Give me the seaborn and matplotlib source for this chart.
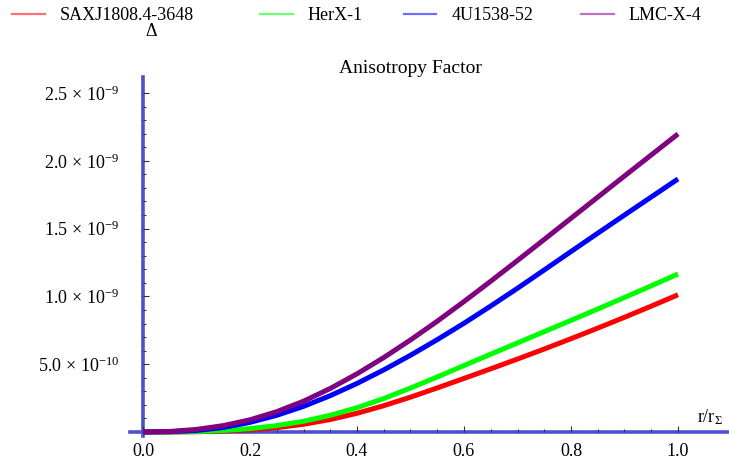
import numpy as np
import pandas as pd
import matplotlib
matplotlib.use("Agg")
import matplotlib.pyplot as plt
from matplotlib.ticker import FixedLocator, FuncFormatter
from matplotlib.lines import Line2D
import seaborn as sns

# ---- data ----
r = [0.0, 0.05, 0.1, 0.15, 0.2, 0.25, 0.3, 0.35, 0.4, 0.45, 0.5,
     0.55, 0.6, 0.65, 0.7, 0.75, 0.8, 0.85, 0.9, 0.95, 1.0]
saxj = [0, 0, 0.002, 0.007, 0.016, 0.032, 0.057, 0.092, 0.138, 0.194, 0.257,
        0.325, 0.395, 0.466, 0.538, 0.612, 0.688, 0.766, 0.846, 0.928, 1.012]
herx = [0, 0, 0.003, 0.011, 0.025, 0.047, 0.079, 0.123, 0.179, 0.247, 0.324,
        0.406, 0.490, 0.574, 0.657, 0.740, 0.823, 0.907, 0.992, 1.078, 1.165]
u1538 = [0, 0.002, 0.011, 0.033, 0.071, 0.123, 0.189, 0.268, 0.358, 0.458, 0.566,
         0.681, 0.802, 0.929, 1.060, 1.195, 1.331, 1.466, 1.600, 1.733, 1.866]
lmc = [0, 0.004, 0.019, 0.047, 0.090, 0.150, 0.227, 0.321, 0.429, 0.549, 0.679,
       0.817, 0.962, 1.112, 1.265, 1.420, 1.576, 1.732, 1.888, 2.043, 2.198]
scale = 1e-9
names = ["SAXJ1808.4-3648", "HerX-1", "4U1538-52", "LMC-X-4"]
series = [saxj, herx, u1538, lmc]
colors = ["#ff0000", "#00ff00", "#0000ff", "#800080"]
legend_colors = ["#ff7070", "#70ff70", "#7070ff", "#c070c0"]
x_ticks = [0.0, 0.2, 0.4, 0.6, 0.8, 1.0]
y_ticks = [5e-10, 1.0e-9, 1.5e-9, 2.0e-9, 2.5e-9]

rows = []
for n, s in zip(names, series):
    for xv, yv in zip(r, s):
        rows.append({"r": xv, "delta": yv * scale, "series": n})
df = pd.DataFrame(rows)

plt.rcParams["font.family"] = ["Liberation Serif", "DejaVu Serif"]
plt.rcParams["mathtext.fontset"] = "custom"
plt.rcParams["mathtext.rm"] = "Liberation Serif"
plt.rcParams["mathtext.it"] = "Liberation Serif:italic"

W, H = 729, 461
fig = plt.figure(figsize=(W / 100, H / 100), dpi=100)
ax = fig.add_axes([130 / W, (H - 436) / H, 599 / W, 359 / H])

sns.lineplot(data=df, x="r", y="delta", hue="series", hue_order=names,
             palette=dict(zip(names, colors)), linewidth=3.6, ax=ax,
             legend=False, sort=False)
for ln in ax.lines:
    ln.set_solid_joinstyle("round")
    ln.set_solid_capstyle("butt")

ax.set_xlim(-13 / 535, 586 / 535)
ax.set_ylim(-4 / 135.6 * 1e-9, 355 / 135.6 * 1e-9)

axis_col = "#4a52cc"
for side in ["top", "right"]:
    ax.spines[side].set_visible(False)
ax.spines["left"].set_position(("data", 0))
ax.spines["bottom"].set_position(("data", 0))
for side in ["left", "bottom"]:
    ax.spines[side].set_color(axis_col)
    ax.spines[side].set_linewidth(2.6)
    ax.spines[side].set_zorder(1)

ax.xaxis.set_major_locator(FixedLocator(x_ticks))
ax.xaxis.set_minor_locator(FixedLocator([i * 0.05 for i in range(1, 20) if i % 4 != 0]))
ax.yaxis.set_major_locator(FixedLocator(y_ticks))
ax.yaxis.set_minor_locator(FixedLocator([i * 1e-10 for i in range(1, 25) if i % 5 != 0]))


def yfmt(v, pos):
    e = int(np.floor(np.log10(v) + 1e-9))
    m = v / 10 ** e
    return r"$\mathrm{%.1f\,\times\,10^{%d}}$" % (m, e)


ax.yaxis.set_major_formatter(FuncFormatter(yfmt))
ax.xaxis.set_major_formatter(FuncFormatter(lambda v, p: "%.1f" % v))
ax.tick_params(axis="both", which="major", direction="in", length=4.5, width=0.8,
               color="#333333", labelsize=13, labelcolor="black")
ax.tick_params(axis="both", which="minor", direction="in", length=2.5, width=0.7,
               color="#333333")
ax.tick_params(axis="x", which="major", pad=8)
ax.tick_params(axis="y", which="major", pad=17)
ax.set_xlabel("")
ax.set_ylabel("")
ax.grid(False)

# title and axis labels
fig.text(410.5 / W, 1 - 68 / H, "Anisotropy Factor", ha="center", va="center",
         fontsize=14)
fig.text(151 / W, 1 - 32 / H, "Δ", ha="center", va="center", fontsize=13)
fig.text(710 / W, 1 - 417 / H, r"$\mathrm{r/r_{\Sigma}}$", ha="center",
         va="center", fontsize=13)

# legend: one entry per slot, placed like the reference
slots = [12, 260, 404, 581]
for n, c, x0 in zip(names, legend_colors, slots):
    h = Line2D([], [], color=c, linewidth=1.6)
    fig.legend([h], [n], loc="center left", bbox_to_anchor=(x0 / W, 1 - 16 / H),
               frameon=False, fontsize=13, handlelength=1.8, handletextpad=0.85,
               borderpad=0, borderaxespad=0)

fig.savefig("out.png", dpi=100)
